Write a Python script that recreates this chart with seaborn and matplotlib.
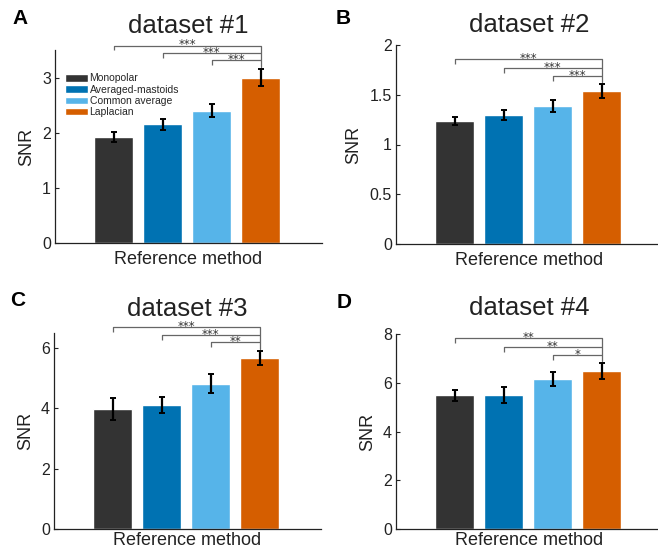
import numpy as np
import pandas as pd
import matplotlib as mpl
mpl.use('Agg')
import matplotlib.pyplot as plt
import seaborn as sns

################################################################################
# DATA
################################################################################

methods = ['Monopolar', 'Averaged-mastoids', 'Common average', 'Laplacian']
colors = ['#333333', '#0072B2', '#56B4E9', '#D55E00']

datasets = ['dataset #1', 'dataset #2', 'dataset #3', 'dataset #4']
panel_letters = ['A', 'B', 'C', 'D']

snr_1 = [1.93, 2.15, 2.40, 3.00]
err_1 = [0.09, 0.10, 0.12, 0.16]
snr_2 = [1.24, 1.30, 1.39, 1.54]
err_2 = [0.04, 0.05, 0.06, 0.07]
snr_3 = [3.97, 4.12, 4.82, 5.67]
err_3 = [0.36, 0.27, 0.31, 0.23]
snr_4 = [5.48, 5.48, 6.16, 6.49]
err_4 = [0.24, 0.33, 0.30, 0.33]

# significance vs Laplacian (Monopolar, Averaged-mastoids, Common average)
stars_1 = ['***', '***', '***']
stars_2 = ['***', '***', '***']
stars_3 = ['***', '***', '**']
stars_4 = ['**', '**', '*']
bracket_y_1 = [3.58, 3.45, 3.31]
bracket_y_2 = [1.86, 1.77, 1.69]
bracket_y_3 = [6.69, 6.44, 6.19]
bracket_y_4 = [7.82, 7.47, 7.13]

ylims = [3.5, 2.0, 6.5, 8.0]
yticks = [[0, 1, 2, 3], [0, 0.5, 1, 1.5, 2], [0, 2, 4, 6], [0, 2, 4, 6, 8]]
ytick_labels = [['0', '1', '2', '3'], ['0', '0.5', '1', '1.5', '2'],
                ['0', '2', '4', '6'], ['0', '2', '4', '6', '8']]

################################################################################
# PLOT
################################################################################

sns.set_style('white')
plt.rcParams['font.family'] = ['Liberation Sans', 'DejaVu Sans']

W, H = 658, 551
fig = plt.figure(figsize=(W / 100, H / 100), dpi=100)

# axes boxes in pixels: left, top, width, bottom
boxes = [(55, 50, 267, 243), (396, 45, 267, 244),
         (54, 333, 267, 529), (396, 334, 267, 529)]
title_pads = [12.2, 9.4, 12.6, 13.7]
xlabel_pads = [6, 6, 2, 2]
letter_xy = [(12, 19), (336, 19), (10, 300), (337, 303)]

all_snr = [snr_1, snr_2, snr_3, snr_4]
all_err = [err_1, err_2, err_3, err_4]
all_stars = [stars_1, stars_2, stars_3, stars_4]
all_brackets = [bracket_y_1, bracket_y_2, bracket_y_3, bracket_y_4]

for i in range(4):
    left, top, width, bottom = boxes[i]
    ax = fig.add_axes([left / W, 1 - bottom / H, width / W, (bottom - top) / H])

    df = pd.DataFrame({'method': methods, 'snr': all_snr[i]})
    sns.barplot(data=df, x='method', y='snr', hue='method', palette=colors,
                order=methods, hue_order=methods, width=0.8, errorbar=None,
                legend=(i == 0), saturation=1, ax=ax)
    ax.errorbar(np.arange(4), all_snr[i], yerr=all_err[i], fmt='none',
                ecolor='black', elinewidth=1.6, capsize=2, capthick=1.4)

    ymax = ylims[i]
    ax.set_xlim(-1.2, 4.25)
    ax.set_ylim(0, ymax)
    ax.set_yticks(yticks[i])
    ax.set_yticklabels(ytick_labels[i], fontsize=11.5)
    ax.set_xticks([])
    ax.tick_params(axis='y', direction='in', length=3, width=0.8, pad=3,
                   left=True, colors='#222222')
    for s in ['top', 'right']:
        ax.spines[s].set_visible(False)
    for s in ['left', 'bottom']:
        ax.spines[s].set_color('#222222')
        ax.spines[s].set_linewidth(0.9)

    ax.set_xlabel('Reference method', fontsize=13, labelpad=xlabel_pads[i],
                  color='#222222')
    ax.set_ylabel('SNR', fontsize=13, labelpad=5, color='#222222')
    ax.set_title(datasets[i], fontsize=18.5, pad=title_pads[i], color='#222222')

    # significance brackets against Laplacian
    drop = 0.025 * ymax
    hs = all_brackets[i]
    for j, (h, st) in enumerate(zip(hs, all_stars[i])):
        ax.plot([j, j, 3], [h - drop, h, h], color='#666666', lw=0.9,
                clip_on=False, solid_capstyle='butt')
        ax.annotate(st, xy=((j + 3) / 2, h), xytext=(0, -2.0),
                    textcoords='offset points', ha='center', va='baseline',
                    fontsize=8.5, family='DejaVu Sans', color='#333333',
                    annotation_clip=False)
    ax.plot([3, 3], [max(hs), all_snr[i][3] + all_err[i][3] + 0.01 * ymax],
            color='#666666', lw=0.9, clip_on=False)

    lx, ly = letter_xy[i]
    fig.text(lx / W, 1 - ly / H, panel_letters[i], fontsize=15,
             fontweight='bold', va='center', ha='left', color='black')

    if i == 0:
        ax.legend(loc='upper left', bbox_to_anchor=(0.02, 0.9), frameon=False,
                  fontsize=7.5, handlelength=2.3, handleheight=0.75,
                  handletextpad=0.1, labelspacing=0.12, borderaxespad=0)

fig.savefig('out.png', dpi=100)
